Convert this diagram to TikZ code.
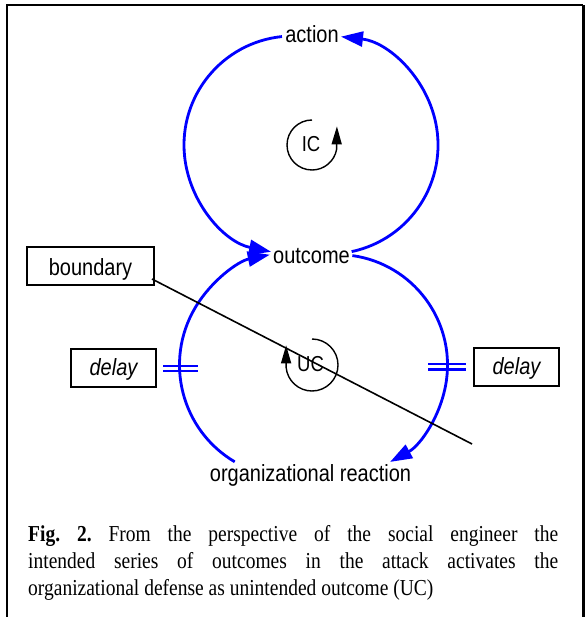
\documentclass[tikz,border=0pt]{standalone}
\usepackage{fontspec}
\setmainfont{Liberation Serif}
\setsansfont{Liberation Sans}
\usepackage{graphicx}
\usetikzlibrary{arrows.meta,calc}
\definecolor{loopblue}{RGB}{0,0,255}
% text is set slightly taller than wide
\newcommand\tallbox[1]{\scalebox{1}[1.17]{#1}}

\begin{document}
\begin{tikzpicture}[x=1pt,y=-1pt,
  flow/.style={draw=loopblue, line width=2.8pt, -{Triangle[length=22pt,width=15pt]}},
  delaymark/.style={draw=loopblue, line width=2.2pt},
  loopmark/.style={draw=black, line width=1.4pt},
  looptip/.style={-{Triangle[length=18pt,width=10pt]}},
  varlabel/.style={anchor=base, inner sep=0pt, font=\sffamily\fontsize{20}{24}\selectfont},
  looplabel/.style={anchor=base, inner sep=0pt, font=\sffamily\fontsize{18.5}{22}\selectfont},
  labelbox/.style={draw=black, line width=1.3pt, inner sep=0pt,
    font=\sffamily\fontsize{20}{24}\selectfont},
]
\useasboundingbox (0,0) rectangle (584,617);

% frame
\draw[line width=2pt] (6.8,617) -- (6.8,5.3) -- (583,5.3);
\draw[line width=3pt] (583,5.3) -- (583,617);

% variables
\node[varlabel] (action) at (312,43) {\tallbox{action}};
\node[varlabel] (outcome) at (311.5,263) {\tallbox{outcome}};
\node[varlabel] (reaction) at (310.5,481) {\tallbox{organizational reaction}};

% arc centres
\coordinate (tl) at (293,145);
\coordinate (tr) at (329,145);
\coordinate (bl) at (292,365);
\coordinate (br) at (337,365);

% intended loop
\draw[flow] ($(tl)+(264.2:109)$) arc[start angle=264.2, end angle=101.6, radius=109];
\draw[flow] ($(tr)+(78:109)$) arc[start angle=78, end angle=-83.7, radius=109];

% unintended loop
\draw[flow] ($(bl)+(120.6:112.5)$) arc[start angle=120.6, end angle=258.6, radius=112.5];
\draw[flow] ($(br)+(-82:110.5)$) arc[start angle=-82, end angle=61.3, radius=110.5];

% delay marks
\draw[delaymark] (163,366) -- (198,366) (163,371) -- (198,371);
\draw[delaymark] (428,364) -- (466,364) (428,369.5) -- (466,369.5);

% loop identifiers
\coordinate (ic) at (312,145);
\coordinate (uc) at (312,365);
\draw[loopmark, looptip] ($(ic)+(270:25)$) arc[start angle=270, end angle=10, radius=25] -- ++(0.3,-23);
\node[looplabel] (iclabel) at (311,151.7) {\tallbox{IC}};
\draw[loopmark, looptip] ($(uc)+(270:26)$) arc[start angle=270, end angle=535, radius=26] -- ++(0,-22);
\node[looplabel] (uclabel) at (310.5,371.7) {\tallbox{UC}};

% boxes
\node[labelbox, minimum width=127pt, minimum height=38pt, text height=18pt, text depth=0pt]
  (bnd) at (90.5,266) {\tallbox{boundary}};
\node[labelbox, minimum width=85pt, minimum height=38pt, text height=14pt, text depth=0pt]
  (dl) at (113.5,368) {\tallbox{\itshape delay}};
\node[labelbox, minimum width=85pt, minimum height=38pt, text height=14pt, text depth=0pt]
  (dr) at (516.5,367) {\tallbox{\itshape delay}};

% boundary line
\coordinate (bstart) at (152,279);
\coordinate (bstop) at (472,444);
\draw[line width=1.6pt] (bstart) -- (bstop);

% caption
\node[anchor=base west, inner sep=0pt] (cap) at (28,541) {\tallbox{\parbox[t]{530pt}{\fontsize{19.5}{23.5}\selectfont\frenchspacing
  \textbf{Fig.~2.} From the perspective of the social engineer the\linebreak
  intended series of outcomes in the attack activates the\linebreak
  organizational defense as unintended outcome (UC)}}};
\end{tikzpicture}
\end{document}
